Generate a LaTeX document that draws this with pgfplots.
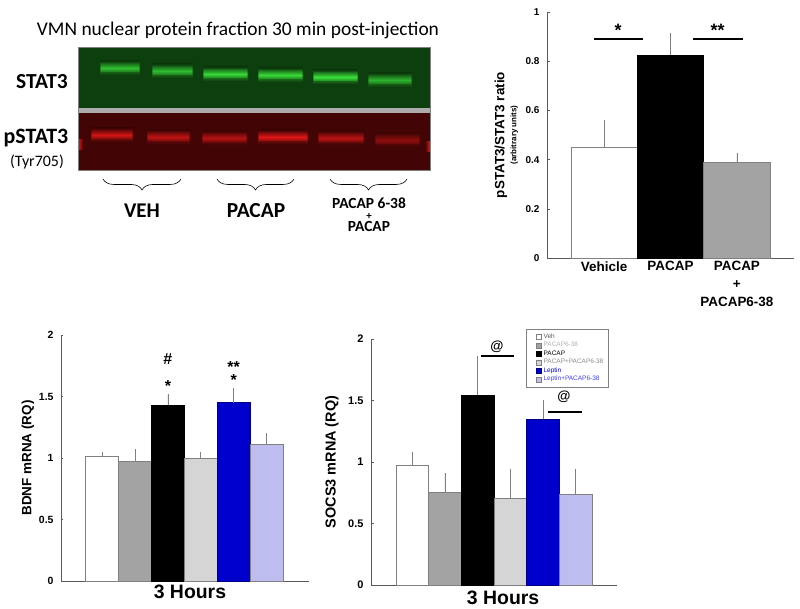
\documentclass[border=0pt]{standalone}
\usepackage{fontspec}
\setmainfont{Liberation Sans}
\newfontfamily\calfont{Carlito}
\usepackage{pgfplots}
\pgfplotsset{compat=1.18}
\usetikzlibrary{decorations.pathreplacing}

\definecolor{gbg}{HTML}{0D3E0D}
\definecolor{gband}{HTML}{3AE03A}
\definecolor{rbg}{HTML}{420404}
\definecolor{rband}{HTML}{E81818}
\definecolor{axgray}{HTML}{5A5A5A}
\definecolor{barmid}{HTML}{A3A3A3}
\definecolor{barlight}{HTML}{D5D5D5}
\definecolor{barblue}{HTML}{0000CC}
\definecolor{barlblue}{HTML}{BDBDF0}

% one blot band: left, right, centre, strength
\newcommand\gb[4]{%
  \shade[top color=gbg, bottom color=gbg, middle color=gband!#4!gbg!60!gbg] (#1,#3-7) rectangle (#2,#3+7);
  \shade[top color=gband!#4!gbg!45!gbg, bottom color=gband!#4!gbg!45!gbg, middle color=gband!#4!gbg] (#1+1,#3-4) rectangle (#2-1,#3+4);}
\newcommand\rb[4]{%
  \shade[top color=rbg, bottom color=rbg, middle color=rband!#4!rbg!60!rbg] (#1,#3-7) rectangle (#2,#3+7);
  \shade[top color=rband!#4!rbg!45!rbg, bottom color=rband!#4!rbg!45!rbg, middle color=rband!#4!rbg] (#1+1,#3-4) rectangle (#2-1,#3+4);}

\pgfplotsset{
  chart/.style={
    scale only axis, clip=false,
    axis lines*=left,
    axis line style={axgray, line width=0.7pt},
    tick align=inside, major tick length=2.5bp,
    ytick style={axgray, line width=0.5pt},
    xtick style={draw=none},
    /pgf/number format/assume math mode=true,
    y tick label style={font=\bfseries\fontsize{10}{11}\selectfont, xshift=-4bp},
  },
  onebar/.style={
    ybar, bar width=1, bar shift=0pt, line width=0.6pt,
    error bars/y dir=plus, error bars/y explicit, error bars/error mark=none,
    error bars/error bar style={gray, line width=0.6pt},
  },
}
\tikzset{sig/.style={font=\bfseries\fontsize{#1}{#1}\selectfont, inner sep=0pt, anchor=base}}

\begin{document}
\begin{tikzpicture}
\useasboundingbox (0,0) rectangle (800bp,609bp);

% blot picture, drawn in pixel units
\begin{axis}[at={(0,0)}, anchor=south west, scale only axis,
  width=800bp, height=609bp, xmin=0, xmax=800, ymin=0, ymax=609,
  y dir=reverse, hide axis, clip=false]
  \fill[gbg] (78,47) rectangle (430,108);
  \fill[rbg] (78,113) rectangle (430,170);
  % STAT3 bands
  \gb{100}{140}{68}{80}
  \gb{152}{193}{71}{78}
  \gb{203}{248}{74}{95}
  \gb{258}{303}{75}{95}
  \gb{313}{358}{77}{100}
  \gb{368}{412}{80}{72}
  % pSTAT3 bands
  \rb{91}{133}{135}{85}
  \rb{147}{190}{137}{75}
  \rb{202}{247}{138}{70}
  \rb{258}{308}{137}{95}
  \rb{318}{364}{138}{72}
  \rb{375}{420}{140}{45}
  \shade[left color=rband, right color=rbg] (78,140) rectangle (83,150);
  \shade[left color=rbg, right color=rband] (425,142) rectangle (430,152);
  \fill[gray!65] (78,108) rectangle (430,113);
  \draw[gray, line width=0.8pt] (78,47) rectangle (430,170);

  \node[font=\calfont\fontsize{19.5}{19.5}\selectfont] at (238,30) {VMN nuclear protein fraction 30 min post-injection};
  \node[font=\calfont\bfseries\fontsize{21.5}{21.5}\selectfont] at (42,82) {STAT3};
  \node[font=\calfont\bfseries\fontsize{22}{22}\selectfont] at (36,138) {pSTAT3};
  \node[font=\calfont\fontsize{16}{16}\selectfont] at (37,162) {(Tyr705)};

  \draw[decorate, decoration={brace, amplitude=11pt}, line width=0.6pt] (181,179) -- (103,179);
  \draw[decorate, decoration={brace, amplitude=11pt}, line width=0.6pt] (294,179) -- (217,179);
  \draw[decorate, decoration={brace, amplitude=11pt}, line width=0.6pt] (407,179) -- (330,179);
  \node[font=\calfont\bfseries\fontsize{21}{21}\selectfont] at (142,211) {VEH};
  \node[font=\calfont\bfseries\fontsize{21.5}{21.5}\selectfont] at (256,211) {PACAP};
  \node[font=\calfont\bfseries\fontsize{15.5}{15.5}\selectfont, inner sep=0pt, anchor=base] at (369,209) {PACAP 6-38};
  \node[font=\calfont\bfseries\fontsize{11}{11}\selectfont, inner sep=0pt, anchor=base] at (369,219.5) {+};
  \node[font=\calfont\bfseries\fontsize{15.5}{15.5}\selectfont, inner sep=0pt, anchor=base] at (369,232) {PACAP};
\end{axis}

% pSTAT3/STAT3 ratio
\begin{axis}[chart, at={(547bp,351bp)}, anchor=south west,
  width=247bp, height=246bp,
  xmin=0.14, xmax=3.86, ymin=0, ymax=1,
  ytick={0,0.2,0.4,0.6,0.8,1},
  xtick={1,2,3},
  xticklabels={Vehicle, PACAP, {PACAP\\+\\PACAP6-38}},
  x tick label style={font=\bfseries\fontsize{13.5}{18}\selectfont, align=center},
  ylabel={pSTAT3/STAT3 ratio\\[-2pt]{\fontsize{8}{8}\selectfont (arbitrary units)}},
  ylabel style={font=\bfseries\fontsize{13.5}{14}\selectfont, align=center,
    at={(axis description cs:-0.165,0.5)}, anchor=center},
]
  \addplot[onebar, fill=white, draw=gray] coordinates {(1,0.45) +- (0,0.11)};
  \addplot[onebar, fill=black, draw=black] coordinates {(2,0.825) +- (0,0.09)};
  \addplot[onebar, fill=barmid, draw=gray] coordinates {(3,0.39) +- (0,0.035)};
  \draw[line width=2.3pt] (0.85,0.89) -- (1.59,0.89);
  \draw[line width=2.3pt] (2.34,0.89) -- (3.09,0.89);
  \node[sig=18] at (1.21,0.900) {*};
  \node[sig=18] at (2.71,0.900) {**};
\end{axis}

% BDNF
\begin{axis}[chart, at={(61bp,28bp)}, anchor=south west,
  width=248bp, height=246bp,
  xmin=-0.25, xmax=7.29, ymin=0, ymax=2,
  ytick={0,0.5,1,1.5,2}, xtick=\empty,
  y tick label style={font=\bfseries\fontsize{10.5}{11}\selectfont},
  xlabel={3 Hours},
  xlabel style={font=\bfseries\fontsize{19.5}{19.5}\selectfont, at={(axis description cs:0.52,0)}, anchor=north, inner sep=0pt, yshift=-4bp},
  ylabel={BDNF mRNA (RQ)},
  ylabel style={font=\bfseries\fontsize{13.5}{14}\selectfont, at={(axis description cs:-0.133,0.5)}, anchor=center},
]
  \addplot[onebar, fill=white, draw=gray] coordinates {(1,1.01) +- (0,0.04)};
  \addplot[onebar, fill=barmid, draw=gray] coordinates {(2,0.97) +- (0,0.10)};
  \addplot[onebar, fill=black, draw=black] coordinates {(3,1.43) +- (0,0.09)};
  \addplot[onebar, fill=barlight, draw=gray] coordinates {(4,1.00) +- (0,0.05)};
  \addplot[onebar, fill=barblue, draw=blue!50!black] coordinates {(5,1.45) +- (0,0.12)};
  \addplot[onebar, fill=barlblue, draw=gray] coordinates {(6,1.11) +- (0,0.09)};
  \node[sig=16] at (3,1.758) {\#};
  \node[sig=16] at (3,1.544) {*};
  \node[sig=16] at (5,1.698) {**};
  \node[sig=16] at (5,1.593) {*};
\end{axis}

% SOCS3
\begin{axis}[chart, at={(371bp,24bp)}, anchor=south west,
  width=246bp, height=246bp,
  xmin=-0.26, xmax=7.26, ymin=0, ymax=2,
  ytick={0,0.5,1,1.5,2}, xtick=\empty,
  y tick label style={font=\bfseries\fontsize{11}{12}\selectfont},
  xlabel={3 Hours},
  xlabel style={font=\bfseries\fontsize{19.5}{19.5}\selectfont, at={(axis description cs:0.537,0)}, anchor=north, inner sep=0pt, yshift=-6bp},
  ylabel={SOCS3 mRNA (RQ)},
  ylabel style={font=\bfseries\fontsize{14.5}{15}\selectfont, at={(axis description cs:-0.159,0.5)}, anchor=center},
  legend style={at={(0.63,1.04)}, anchor=north west, draw=gray, fill=white,
    font=\fontsize{6.5}{7}\selectfont, inner xsep=3bp, inner ysep=2.5bp, row sep=-1.6bp,
    cells={anchor=west}},
  legend image code/.code={\path (0bp,0bp); \draw[#1, line width=0.3pt] (7bp,-2.5bp) rectangle (12bp,2.5bp);},
]
  \addplot[onebar, fill=white, draw=gray] coordinates {(1,0.976) +- (0,0.105)};
  \addlegendentry[text=black!65]{Veh}
  \addplot[onebar, fill=barmid, draw=gray] coordinates {(2,0.756) +- (0,0.155)};
  \addlegendentry[text=black!30]{PACAP6-38}
  \addplot[onebar, fill=black, draw=black] coordinates {(3,1.545) +- (0,0.315)};
  \addlegendentry[text=black]{PACAP}
  \addplot[onebar, fill=barlight, draw=gray] coordinates {(4,0.707) +- (0,0.24)};
  \addlegendentry[text=black!45]{PACAP+PACAP6-38}
  \addplot[onebar, fill=barblue, draw=blue!50!black] coordinates {(5,1.35) +- (0,0.15)};
  \addlegendentry[text=blue!85!black]{Leptin}
  \addplot[onebar, fill=barlblue, draw=gray] coordinates {(6,0.74) +- (0,0.20)};
  \addlegendentry[text=blue!75]{Leptin+PACAP6-38}
  \draw[line width=1.9pt] (3.10,1.86) -- (4.11,1.86);
  \draw[line width=1.9pt] (5.15,1.41) -- (6.19,1.41);
  \node[sig=13.5] at (3.59,1.906) {@};
  \node[sig=13.5] at (5.64,1.499) {@};
\end{axis}
\end{tikzpicture}
\end{document}
